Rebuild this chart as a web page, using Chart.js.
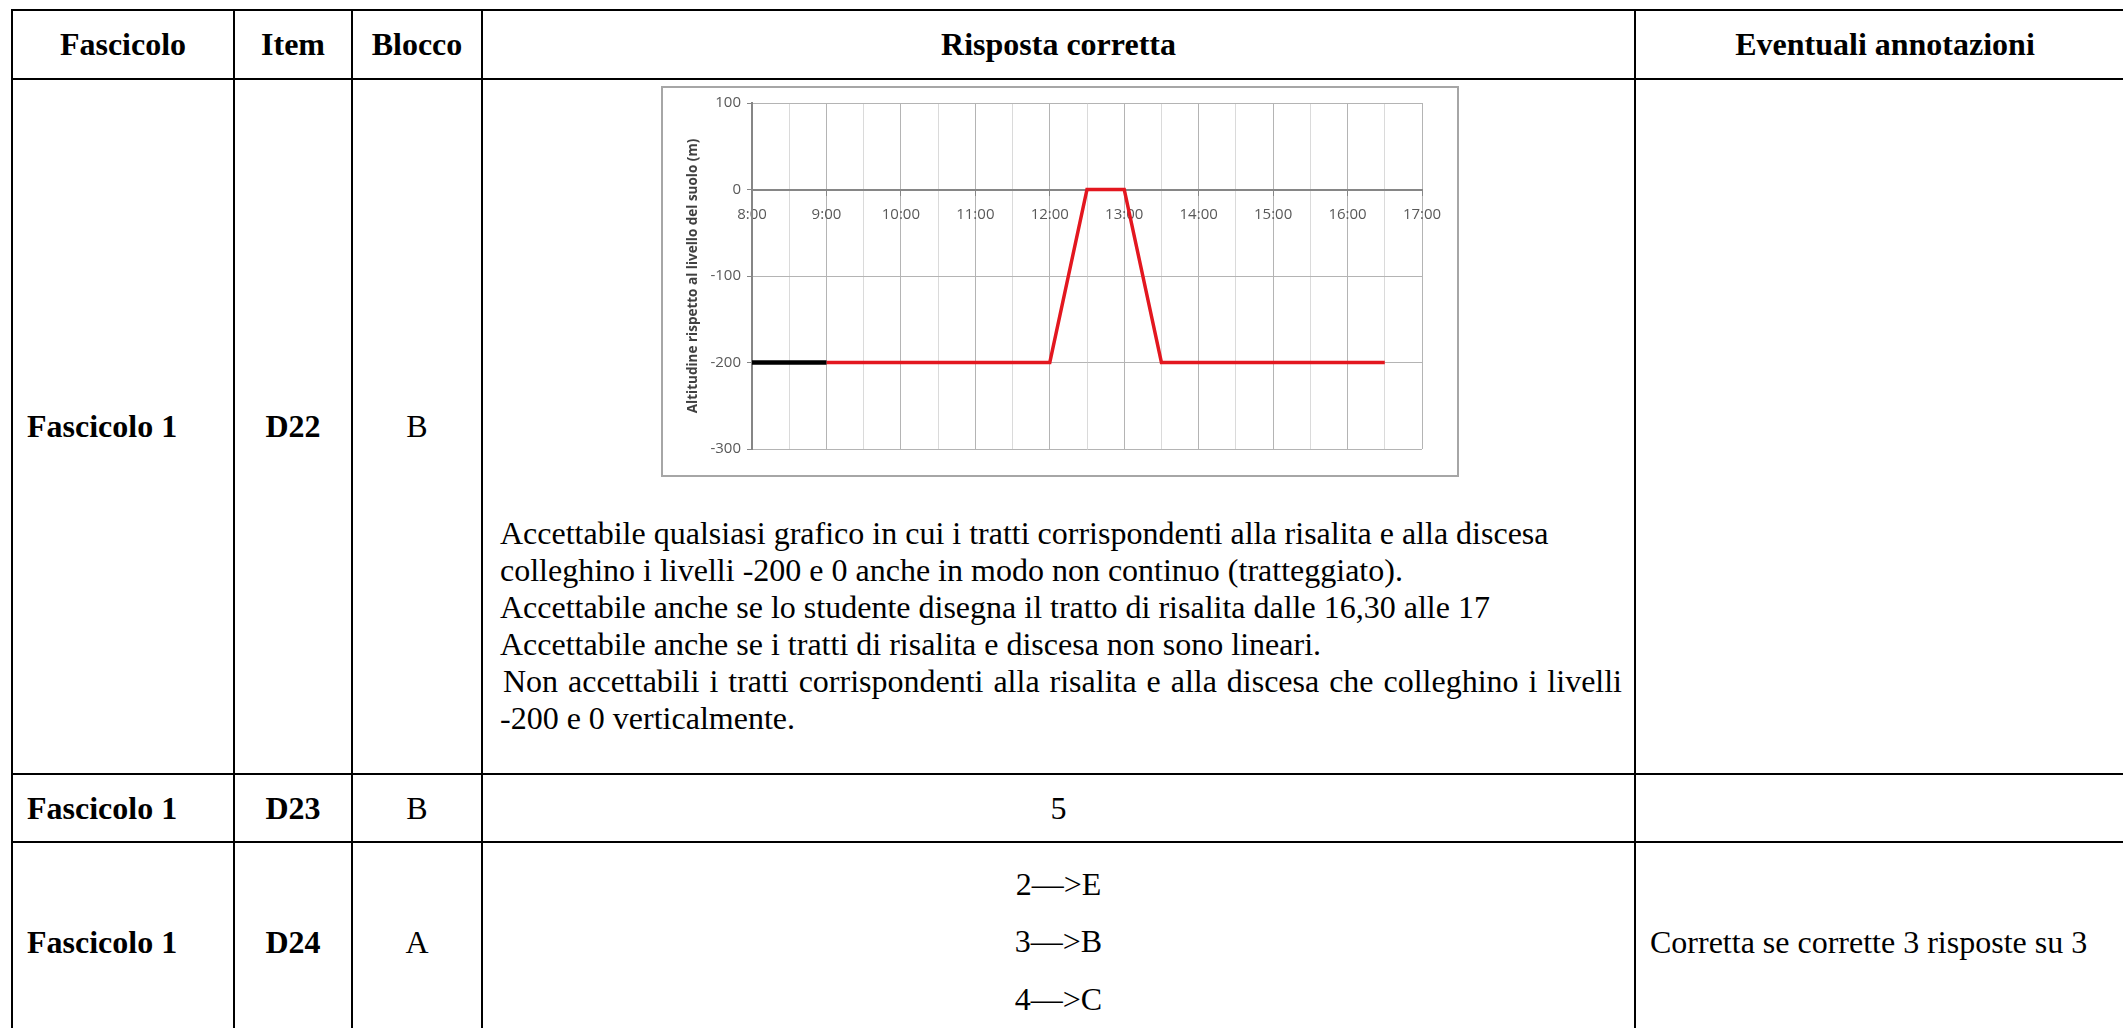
<!DOCTYPE html>
<html lang="it">
<head>
<meta charset="utf-8">
<title>Fascicolo 1 - D22</title>
<script src="https://cdn.jsdelivr.net/npm/chart.js"></script>
<style>
html, body { margin: 0; padding: 0; overflow: hidden; background: #fff; }
body { font-family: "Liberation Serif", "Times New Roman", serif; color: #000; }
table { position: absolute; left: 11px; top: 9px; border-collapse: separate; border-spacing: 0; table-layout: fixed; width: 2125px; border-left: 2px solid #000; border-top: 2px solid #000; }
th, td { border-right: 2px solid #000; border-bottom: 2px solid #000; padding: 0; box-sizing: border-box; font-size: 32px; font-family: "Liberation Serif", "Times New Roman", serif; }
th { font-weight: bold; text-align: center; vertical-align: middle; }
td { vertical-align: middle; }
.c { text-align: center; }
.b { font-weight: bold; }
.first { padding-left: 14px; }
.chartbox { position: relative; width: 798px; height: 391px; margin: 6px 0 0 178px; border: 2px solid #a6a6a6; box-sizing: border-box; }
.ans { margin: 38px 12px 0 17px; line-height: 37px; }
.just { text-align: justify; text-indent: 3px; }
.list { line-height: 57.5px; text-align: center; }
.note { padding-left: 14px; }
</style>
</head>
<body>
<table>
  <colgroup>
    <col style="width:222px"><col style="width:118px"><col style="width:130px"><col style="width:1153px"><col style="width:500px">
  </colgroup>
  <tr style="height:69px">
    <th>Fascicolo</th><th>Item</th><th>Blocco</th><th>Risposta corretta</th><th>Eventuali annotazioni</th>
  </tr>
  <tr style="height:695px">
    <td class="b first">Fascicolo 1</td>
    <td class="b c">D22</td>
    <td class="c">B</td>
    <td style="vertical-align:top">
      <div class="chartbox"><canvas id="altChart"></canvas></div>
      <div class="ans">Accettabile qualsiasi grafico in cui i tratti corrispondenti alla risalita e alla discesa colleghino i livelli -200 e 0 anche in modo non continuo (tratteggiato).<br>Accettabile anche se lo studente disegna il tratto di risalita dalle 16,30 alle 17<br>Accettabile anche se i tratti di risalita e discesa non sono lineari.</div>
      <div class="ans just" style="margin-top:0">Non accettabili i tratti corrispondenti alla risalita e alla discesa che colleghino i livelli -200 e 0 verticalmente.</div>
    </td>
    <td></td>
  </tr>
  <tr style="height:68px">
    <td class="b first">Fascicolo 1</td>
    <td class="b c">D23</td>
    <td class="c">B</td>
    <td class="c">5</td>
    <td></td>
  </tr>
  <tr style="height:200px">
    <td class="b first">Fascicolo 1</td>
    <td class="b c">D24</td>
    <td class="c">A</td>
    <td><div class="list">2—&gt;E<br>3—&gt;B<br>4—&gt;C</div></td>
    <td class="note">Corretta se corrette 3 risposte su 3</td>
  </tr>
</table>

<script>
// Orari in ore decimali (8.5 = 8:30) e altitudine in metri
let descentTimes = [8, 9];
let descentAlt = [-200, -200];
let answerTimes = [9, 12, 12.5, 13, 13.5, 16.5];
let answerAlt = [-200, -200, 0, 0, -200, -200];

let yTicks = [100, 0, -100, -200, -300];
let yTitle = 'Altitudine rispetto al livello del suolo (m)';

function toPoints(xs, ys) {
    let pts = [];
    for (let i = 0; i < xs.length; i++) {
        pts.push({ x: xs[i], y: ys[i] });
    }
    return pts;
}

let tickFont = { family: 'Open Sans', size: 15 };

let ctx = document.getElementById('altChart').getContext('2d');
let altChart = new Chart(ctx, {
    type: 'line',
    data: {
        datasets: [{
            data: toPoints(descentTimes, descentAlt),
            borderColor: '#000000',
            borderWidth: 4.5,
            pointRadius: 0
        }, {
            data: toPoints(answerTimes, answerAlt),
            borderColor: '#e3171f',
            borderWidth: 3.5,
            pointRadius: 0
        }]
    },
    options: {
        responsive: true,
        maintainAspectRatio: false,
        animation: false,
        layout: { padding: { left: 0, top: 8, right: 35, bottom: 26 } },
        plugins: { legend: { display: false }, tooltip: { enabled: false } },
        scales: {
            x: {
                type: 'linear',
                position: { y: 0 },
                min: 8,
                max: 17,
                ticks: {
                    stepSize: 0.5,
                    autoSkip: false,
                    maxRotation: 0,
                    padding: 11,
                    color: '#595959',
                    font: tickFont,
                    // solo le ore intere hanno l'etichetta
                    callback: function(v) { return Number.isInteger(v) ? v + ':00' : ''; }
                },
                grid: {
                    color: function(c) { return Number.isInteger(c.tick.value) ? '#b4b4b4' : '#dadada'; },
                    tickColor: function(c) { return Number.isInteger(c.tick.value) ? '#868686' : 'rgba(0,0,0,0)'; },
                    tickLength: 5
                },
                border: { color: '#868686', width: 2 }
            },
            y: {
                min: -300,
                max: 100,
                afterBuildTicks: function(scale) {
                    scale.ticks = yTicks.map(function(v) { return { value: v }; });
                },
                afterFit: function(scale) { scale.width = 89; },
                ticks: { padding: 6, color: '#595959', font: tickFont },
                grid: { color: '#b4b4b4', tickColor: '#868686', tickLength: 5 },
                border: { color: '#868686', width: 2 },
                title: {
                    display: true,
                    text: yTitle,
                    color: '#404040',
                    font: { family: 'Open Sans', size: 13.5, weight: 'bold' },
                    padding: { top: 22, bottom: 0 }
                }
            }
        }
    }
});
</script>
</body>
</html>
